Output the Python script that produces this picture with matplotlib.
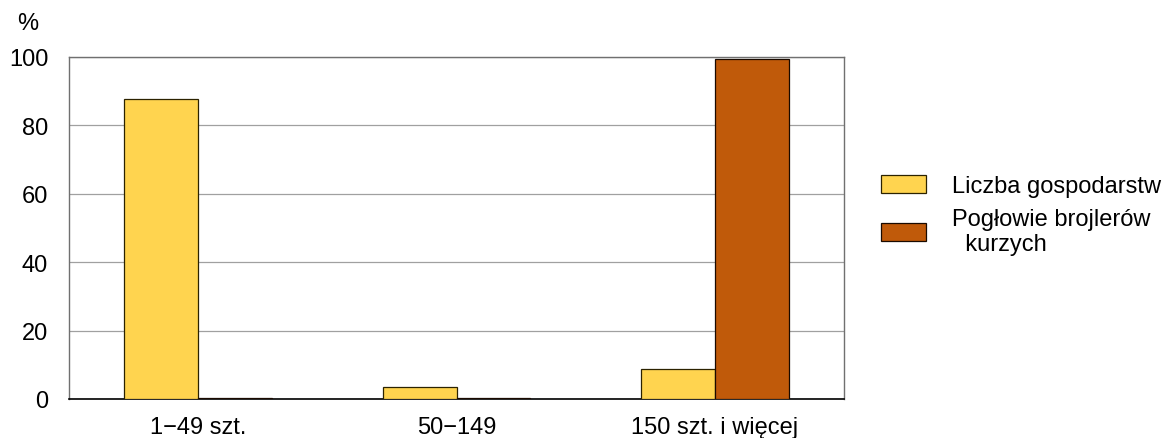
import numpy as np
import matplotlib.pyplot as plt

plt.rcParams['font.family'] = ['Liberation Sans', 'DejaVu Sans']

categories = ["1\u221249 szt.", "50\u2212149", "150 szt. i wi\u0119cej"]
gospodarstwa = [87.7, 3.4, 8.7]
poglowie = [0.4, 0.2, 99.4]
labels = ["Liczba gospodarstw", "Pog\u0142owie brojler\u00f3w\n  kurzych"]

fs = 17

fig = plt.figure(figsize=(11.7, 4.39), dpi=100)
ax = fig.add_axes([69 / 1170, 1 - 400 / 439, 775 / 1170, 342 / 439])

x = np.arange(len(categories))
w = 0.286
ax.bar(x - w / 2, gospodarstwa, w, color="#FFD44F", edgecolor="#2b2200",
       linewidth=0.9, label=labels[0], zorder=3)
ax.bar(x + w / 2, poglowie, w, color="#C05A0A", edgecolor="#1a0a00",
       linewidth=0.9, label=labels[1], zorder=3)

ax.set_xlim(-0.5, 2.5)
ax.set_ylim(0, 100)
ax.set_yticks([0, 20, 40, 60, 80, 100])
ax.set_xticks(x)
ax.set_xticklabels(categories)
ax.tick_params(axis='both', length=0, labelsize=fs)
ax.tick_params(axis='y', pad=15)
ax.tick_params(axis='x', pad=12)
ax.grid(axis='y', color="#a0a0a0", linewidth=0.9, zorder=0)

for side in ["left", "top", "right"]:
    ax.spines[side].set_color("#707070")
    ax.spines[side].set_linewidth(1.0)
ax.spines["bottom"].set_color("black")
ax.spines["bottom"].set_linewidth(1.2)

fig.text(28 / 1170, 1 - 24 / 439, "%", fontsize=fs, ha="center", va="center")

leg = ax.legend(loc="upper left", bbox_to_anchor=(881 / 1170, 1 - 176 / 439),
                bbox_transform=fig.transFigure, frameon=False, fontsize=fs,
                handlelength=1.9, handleheight=0.82, handletextpad=1.1,
                labelspacing=0.45, borderpad=0, borderaxespad=0)

fig.savefig("out.png", dpi=100)
